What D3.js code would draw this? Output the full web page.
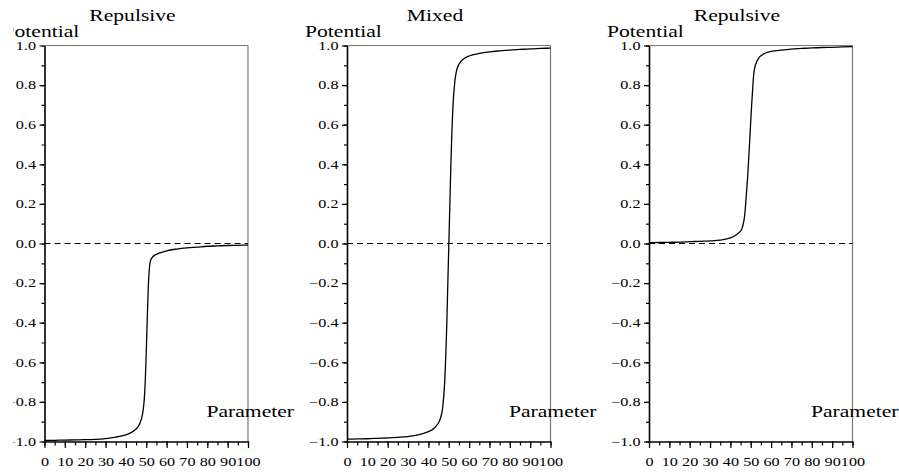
<!DOCTYPE html>
<html>
<head>
<meta charset="utf-8">
<script src="https://cdn.jsdelivr.net/npm/d3@7"></script>
<style>
  body { margin: 0; background: #fff; }
  svg { display: block; }
  svg text { font-family: "Times New Roman", "Liberation Serif", Tinos, Times, serif !important; fill: #000; }
</style>
</head>
<body>
<div id="chart"></div>
<script>
// parameter values where the curves were read
const params = [0, 5, 10, 15, 20, 25, 30, 35, 40, 42, 44, 45, 46, 47, 48, 48.5, 49, 49.5, 50,
  50.5, 51, 51.5, 52, 53, 54, 55, 56, 58, 60, 65, 70, 75, 80, 85, 90, 95, 100];

// left panel: repulsive (negative branch)
const repulsiveLow = [-0.995, -0.994, -0.993, -0.992, -0.991, -0.989, -0.985, -0.978, -0.966, -0.958,
  -0.945, -0.937, -0.925, -0.905, -0.87, -0.84, -0.79, -0.7, -0.55, -0.38, -0.22, -0.13, -0.09,
  -0.07, -0.06, -0.055, -0.05, -0.043, -0.037, -0.028, -0.022, -0.018, -0.014, -0.012, -0.01, -0.009, -0.008];

// middle panel: mixed
const mixed = [-0.988, -0.987, -0.986, -0.984, -0.982, -0.979, -0.975, -0.967, -0.95, -0.94,
  -0.92, -0.905, -0.88, -0.83, -0.7, -0.58, -0.42, -0.22, -0.02, 0.18, 0.38, 0.55, 0.68,
  0.82, 0.88, 0.905, 0.92, 0.937, 0.947, 0.96, 0.968, 0.973, 0.977, 0.98, 0.983, 0.985, 0.987];

// right panel: repulsive (positive branch)
const repulsiveHigh = [0.004, 0.005, 0.006, 0.007, 0.009, 0.011, 0.013, 0.017, 0.028, 0.038,
  0.053, 0.062, 0.085, 0.14, 0.27, 0.34, 0.43, 0.52, 0.62, 0.71, 0.79, 0.86, 0.89,
  0.92, 0.938, 0.948, 0.955, 0.965, 0.97, 0.977, 0.982, 0.985, 0.988, 0.99, 0.991, 0.993, 0.994];

const titles = ["Repulsive", "Mixed", "Repulsive"];
const seriesList = [repulsiveLow, mixed, repulsiveHigh];
const xTicks = [0, 10, 20, 30, 40, 50, 60, 70, 80, 90, 100];
const yTicks = [-1.0, -0.8, -0.6, -0.4, -0.2, 0.0, 0.2, 0.4, 0.6, 0.8, 1.0];

const W = 899, H = 472;
const lefts = [44.5, 347, 649];
const plotW = 203.5, plotTop = 45.5, plotBottom = 441.5;
const SX = 1.35; // text in the picture is stretched sideways
const FONT = '"Times New Roman", "Liberation Serif", Tinos, Times, serif';

const svg = d3.select("#chart").append("svg")
  .attr("width", W)
  .attr("height", H)
  .attr("font-family", FONT);

// the first panel is cut off on its left side in the picture
svg.append("defs").append("clipPath")
  .attr("id", "clipFirst")
  .append("rect")
  .attr("x", -31).attr("y", -50)
  .attr("width", 400).attr("height", 600);

const y = d3.scaleLinear().domain([-1, 1]).range([plotBottom - plotTop, 0]);
const x = d3.scaleLinear().domain([0, 100]).range([0, plotW]);

function stretchedText(g, px, py, txt, size, anchor) {
  return g.append("text")
    .attr("transform", `translate(${px},${py}) scale(${SX},1)`)
    .attr("text-anchor", anchor || "start")
    .attr("font-family", FONT)
    .style("font-size", size + "px")
    .text(txt);
}

seriesList.forEach((vals, i) => {
  const g = svg.append("g")
    .attr("transform", `translate(${lefts[i]}, ${plotTop})`);
  if (i === 0) g.attr("clip-path", "url(#clipFirst)");

  // frame: top and right edges in grey
  g.append("line")
    .attr("x1", 0).attr("x2", plotW).attr("y1", 0).attr("y2", 0)
    .attr("stroke", "#777").attr("stroke-width", 1.2);
  g.append("line")
    .attr("x1", plotW).attr("x2", plotW).attr("y1", 0).attr("y2", y(-1))
    .attr("stroke", "#777").attr("stroke-width", 1.2);

  // zero line
  g.append("line")
    .attr("x1", 0).attr("x2", plotW).attr("y1", y(0)).attr("y2", y(0))
    .attr("stroke", "#000").attr("stroke-width", 1)
    .attr("stroke-dasharray", "6,4");

  // minor ticks first
  g.append("g")
    .call(d3.axisLeft(y).tickValues(d3.range(-10, 11).map(d => d / 10)).tickSize(3).tickFormat(""))
    .call(a => a.select(".domain").remove())
    .selectAll("line").attr("stroke-width", 1.2);
  g.append("g")
    .attr("transform", `translate(0, ${y(-1)})`)
    .call(d3.axisBottom(x).tickValues(d3.range(0, 101, 5)).tickSize(4).tickFormat(""))
    .call(a => a.select(".domain").remove())
    .selectAll("line").attr("stroke-width", 1.2);

  // y axis
  const yAx = g.append("g")
    .call(d3.axisLeft(y).tickValues(yTicks).tickSize(5).tickSizeOuter(0).tickFormat(d3.format(".1f")))
    .attr("font-family", FONT);
  yAx.select(".domain").attr("stroke-width", 1.6);
  yAx.selectAll("line").attr("stroke-width", 1.2);
  yAx.selectAll("text")
    .attr("x", -8.5 / SX)
    .attr("transform", `scale(${SX},1)`)
    .attr("dy", "0.32em")
    .style("font-size", "12px");

  // x axis
  const xAx = g.append("g")
    .attr("transform", `translate(0, ${y(-1)})`)
    .call(d3.axisBottom(x).tickValues(xTicks).tickSize(6.5).tickSizeOuter(0).tickFormat(d3.format("d")))
    .attr("font-family", FONT);
  xAx.select(".domain").attr("stroke-width", 1.4);
  xAx.selectAll("line").attr("stroke-width", 1.2);
  xAx.selectAll("text")
    .attr("y", 24.5)
    .attr("dy", "0")
    .attr("transform", `scale(${SX},1)`)
    .style("font-size", "12px");

  // curve
  const line = d3.line()
    .x((d, k) => x(params[k]))
    .y(d => y(d))
    .curve(d3.curveMonotoneX);
  g.append("path")
    .datum(vals)
    .attr("fill", "none")
    .attr("stroke", "#000")
    .attr("stroke-width", 1.3)
    .attr("d", line);

  // labels
  stretchedText(g, 88, 21 - plotTop, titles[i], 16, "middle");
  stretchedText(g, -42, 36.5 - plotTop, "Potential", 16, "start");
  stretchedText(g, 162, 417 - plotTop, "Parameter", 16, "start");
});
</script>
</body>
</html>
